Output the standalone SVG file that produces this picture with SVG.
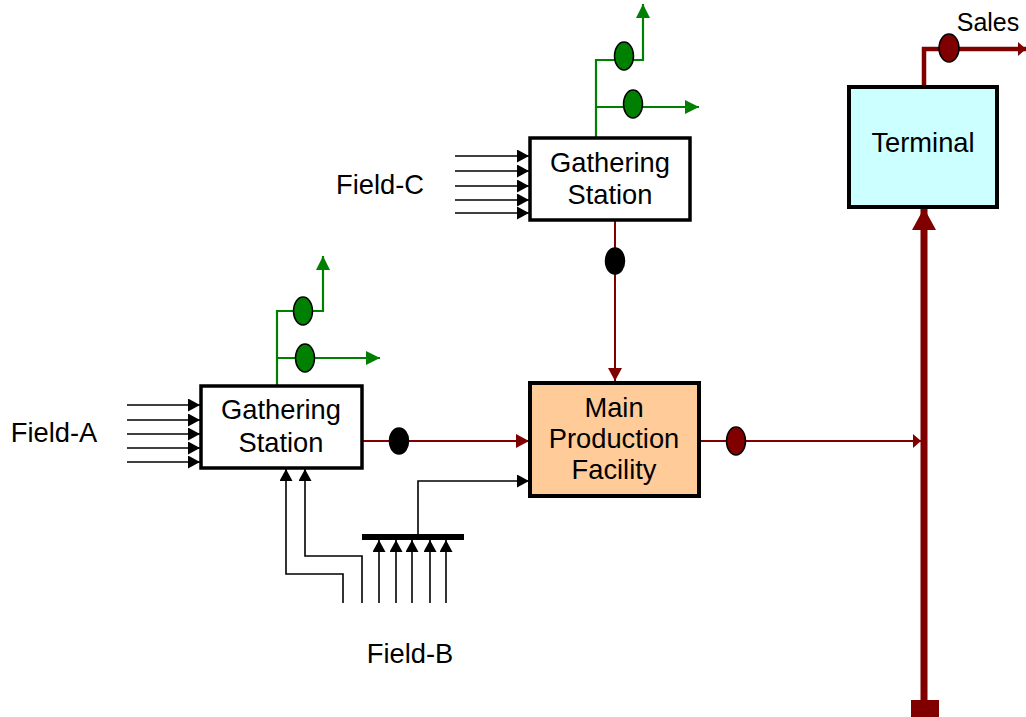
<svg xmlns="http://www.w3.org/2000/svg" width="1026" height="717" viewBox="0 0 1026 717">
<style>
text{font-family:"Liberation Sans",Arial,sans-serif;fill:#000}
.lbl{font-size:27.3px;text-anchor:middle}
.box{stroke:#000;stroke-width:3.5}
.blk{fill:none;stroke:#000;stroke-width:1.6}
.grn{fill:none;stroke:#008000;stroke-width:2.2}
.red{fill:none;stroke:#800000;stroke-width:2}
.red2{fill:none;stroke:#800000;stroke-width:4.5}
.red3{fill:none;stroke:#800000;stroke-width:7}
.ge{fill:#008000;stroke:#000;stroke-width:1.5}
.re{fill:#800000;stroke:#000;stroke-width:1.5}
.be{fill:#000;stroke:#000;stroke-width:1.5}
</style>
<defs>
<marker id="ab" markerUnits="userSpaceOnUse" markerWidth="14" markerHeight="14" refX="12" refY="6.5" orient="auto"><path d="M0,0 L12,6.5 L0,13 Z" fill="#000"/></marker>
<marker id="ag" markerUnits="userSpaceOnUse" markerWidth="16" markerHeight="16" refX="14" refY="7" orient="auto"><path d="M0,0 L14,7 L0,14 Z" fill="#008000"/></marker>
<marker id="ar" markerUnits="userSpaceOnUse" markerWidth="16" markerHeight="16" refX="13" refY="7" orient="auto"><path d="M0,0 L13,7 L0,14 Z" fill="#800000"/></marker>
<marker id="ar2" markerUnits="userSpaceOnUse" markerWidth="14" markerHeight="16" refX="8" refY="7" orient="auto"><path d="M0,0 L8,7 L0,14 Z" fill="#800000"/></marker>
<marker id="ar3" markerUnits="userSpaceOnUse" markerWidth="26" markerHeight="26" refX="22" refY="12" orient="auto"><path d="M0,0 L22,12 L0,24 Z" fill="#800000"/></marker>
</defs>

<g id="connectors">
  <!-- Field-A inputs -->
  <line class="blk" x1="127" y1="405" x2="200" y2="405" marker-end="url(#ab)"/>
  <line class="blk" x1="127" y1="420" x2="200" y2="420" marker-end="url(#ab)"/>
  <line class="blk" x1="127" y1="434" x2="200" y2="434" marker-end="url(#ab)"/>
  <line class="blk" x1="127" y1="448" x2="200" y2="448" marker-end="url(#ab)"/>
  <line class="blk" x1="127" y1="462" x2="200" y2="462" marker-end="url(#ab)"/>
  <!-- Field-C inputs -->
  <line class="blk" x1="455" y1="156" x2="529" y2="156" marker-end="url(#ab)"/>
  <line class="blk" x1="455" y1="171" x2="529" y2="171" marker-end="url(#ab)"/>
  <line class="blk" x1="455" y1="186" x2="529" y2="186" marker-end="url(#ab)"/>
  <line class="blk" x1="455" y1="200" x2="529" y2="200" marker-end="url(#ab)"/>
  <line class="blk" x1="455" y1="213" x2="529" y2="213" marker-end="url(#ab)"/>
  <!-- Field-B to gathering A -->
  <polyline class="blk" points="343,603 343,574 286,574 286,469" marker-end="url(#ab)"/>
  <polyline class="blk" points="362,603 362,556 305,556 305,469" marker-end="url(#ab)"/>
  <!-- Field-B manifold -->
  <rect x="362" y="534" width="102" height="6" fill="#000"/>
  <line class="blk" x1="379" y1="603" x2="379" y2="540" marker-end="url(#ab)"/>
  <line class="blk" x1="396" y1="603" x2="396" y2="540" marker-end="url(#ab)"/>
  <line class="blk" x1="412" y1="603" x2="412" y2="540" marker-end="url(#ab)"/>
  <line class="blk" x1="430" y1="603" x2="430" y2="540" marker-end="url(#ab)"/>
  <line class="blk" x1="446" y1="603" x2="446" y2="540" marker-end="url(#ab)"/>
  <polyline class="blk" points="418,534 418,481 529,481" marker-end="url(#ab)"/>
  <!-- Green outputs A -->
  <polyline class="grn" points="277,385 277,311 323,311 323,256" marker-end="url(#ag)"/>
  <polyline class="grn" points="277,358 380,358" marker-end="url(#ag)"/>
  <ellipse class="ge" cx="303" cy="311" rx="9.5" ry="14"/>
  <ellipse class="ge" cx="305" cy="358" rx="9.5" ry="14"/>
  <!-- Green outputs C -->
  <polyline class="grn" points="596,137 596,60 643,60 643,4" marker-end="url(#ag)"/>
  <polyline class="grn" points="596,107 699,107" marker-end="url(#ag)"/>
  <ellipse class="ge" cx="624" cy="56" rx="9.5" ry="14"/>
  <ellipse class="ge" cx="633" cy="104" rx="9.5" ry="14"/>
  <!-- Red flows -->
  <line class="red" x1="615" y1="220" x2="615" y2="381" marker-end="url(#ar)"/>
  <ellipse class="be" cx="615" cy="261" rx="9.5" ry="13"/>
  <line class="red" x1="362" y1="441" x2="529" y2="441" marker-end="url(#ar)"/>
  <ellipse class="be" cx="399" cy="441" rx="9.5" ry="13"/>
  <line class="red" x1="700" y1="441" x2="921" y2="441" marker-end="url(#ar2)"/>
  <ellipse class="re" cx="736" cy="441" rx="9.5" ry="14"/>
  <!-- Pipeline to terminal -->
  <line class="red3" x1="924" y1="705" x2="924" y2="208" marker-end="url(#ar3)"/>
  <rect x="911" y="700" width="28" height="17" fill="#800000"/>
  <!-- Sales -->
  <polyline class="red2" points="924,86 924,49 1026,49" marker-end="url(#ar2)"/>
  <ellipse class="re" cx="949" cy="48" rx="10" ry="14"/>
</g>

<g id="gathering-a">
  <rect class="box" x="201" y="386" width="161" height="82" fill="#fff"/>
  <text class="lbl" x="281" y="419">Gathering</text>
  <text class="lbl" x="281" y="452">Station</text>
</g>
<g id="gathering-c">
  <rect class="box" x="530" y="138" width="160" height="82" fill="#fff"/>
  <text class="lbl" x="610" y="172">Gathering</text>
  <text class="lbl" x="610" y="204">Station</text>
</g>
<g id="main-facility">
  <rect x="530" y="383" width="169" height="113" fill="#FFCC99" stroke="#000" stroke-width="4"/>
  <text class="lbl" x="614" y="417">Main</text>
  <text class="lbl" x="614" y="448">Production</text>
  <text class="lbl" x="614" y="479">Facility</text>
</g>
<g id="terminal">
  <rect x="849" y="87" width="148" height="120" fill="#CCFFFF" stroke="#000" stroke-width="4"/>
  <text class="lbl" x="923" y="152">Terminal</text>
</g>
<g id="labels">
  <text class="lbl" x="54" y="442">Field-A</text>
  <text class="lbl" x="380" y="194">Field-C</text>
  <text class="lbl" x="410" y="663">Field-B</text>
  <text x="988" y="31" font-size="25" text-anchor="middle">Sales</text>
</g>
</svg>
